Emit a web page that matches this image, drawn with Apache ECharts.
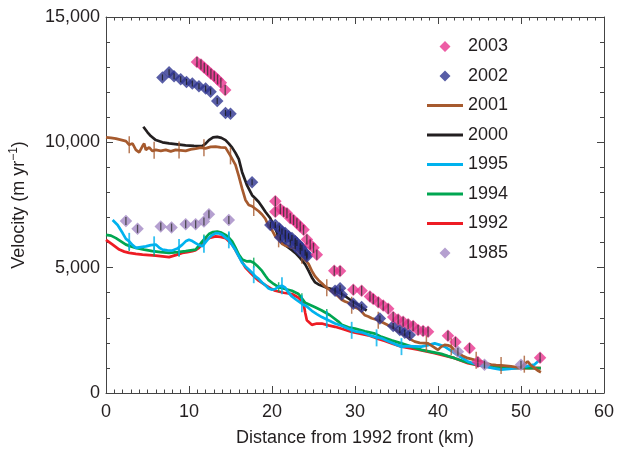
<!DOCTYPE html>
<html>
<head>
<meta charset="utf-8">
<script src="https://cdn.jsdelivr.net/npm/echarts@6/dist/echarts.min.js"></script>
<style>
  html, body { margin: 0; background: #fff; }
  #chart { width: 618px; height: 452px; }
</style>
</head>
<body>
<div id="chart"></div>
<script>
// [distance km, velocity m/yr]
const v2003 = [
  [10.96, 13200], [11.44, 13110], [11.84, 12980], [12.24, 12870], [12.64, 12740], [13.04, 12640],
  [13.44, 12510], [13.84, 12380], [14.36, 12090],
  [20.4, 7650], [20.4, 7230], [21.0, 7340], [21.4, 7230], [21.8, 7170], [22.2, 6970], [22.6, 6900],
  [23.0, 6770], [23.4, 6640], [23.8, 6510], [24.2, 6120], [24.6, 5920], [25.0, 5790], [25.4, 5520],
  [27.5, 4880], [28.2, 4870],
  [29.8, 4120], [30.8, 4080], [31.8, 3850], [32.2, 3750], [32.8, 3620], [33.4, 3490], [34.0, 3360],
  [34.6, 3030], [35.2, 2930], [35.8, 2840], [36.4, 2740], [37.0, 2670], [37.6, 2510], [38.2, 2470],
  [38.8, 2440],
  [41.2, 2280], [42.1, 2030], [43.8, 1790], [44.8, 1240], [52.3, 1410]
]
const v2002 = [
  [6.8, 12590], [7.6, 12800], [8.2, 12640], [9.0, 12520], [9.7, 12410], [10.4, 12350], [11.2, 12240],
  [12.0, 12150], [12.6, 12020], [13.4, 11650], [14.4, 11170], [15.0, 11140],
  [17.6, 8410],
  [19.8, 6700], [20.4, 6700], [20.9, 6560], [21.2, 6440], [21.6, 6380], [22.0, 6250], [22.4, 6180],
  [22.8, 6050], [23.0, 5980], [23.4, 5850], [23.6, 5790], [24.0, 5600], [24.2, 5520],
  [21.0, 6200], [21.6, 6150], [22.2, 6000], [22.8, 5850], [23.4, 5650], [24.2, 5450],
  [27.6, 4080], [28.2, 4180], [28.4, 3930], [29.8, 3560], [30.8, 3430], [33.0, 2970], [34.6, 2670],
  [35.4, 2510], [36.0, 2400], [36.6, 2310]
]
const v2001 = [
  [0, 10200], [0.6, 10180], [1.2, 10150], [1.8, 10100], [2.4, 10050], [2.8, 9900], [3.2, 9950],
  [3.6, 9700], [4.0, 9600], [4.4, 9850], [4.6, 9950], [4.8, 9700], [5.2, 9800], [5.6, 9650],
  [6.0, 9700], [6.6, 9660], [7.2, 9700], [7.8, 9640], [8.4, 9700], [9.0, 9680], [9.6, 9660],
  [10.2, 9720], [10.8, 9750], [11.4, 9790], [12.0, 9760], [12.6, 9820], [13.2, 9830], [13.8, 9800],
  [14.4, 9790], [15.0, 9460], [15.6, 9100], [16.0, 8650], [16.4, 8150], [16.8, 7700], [17.2, 7500],
  [17.6, 7450], [18.0, 7350], [18.4, 7250], [18.8, 7120], [19.2, 6950], [19.6, 6650], [20.0, 6500],
  [20.4, 6250], [20.8, 6150], [21.2, 5950], [21.6, 5880], [22.0, 5850], [22.4, 5800], [22.8, 5780],
  [23.2, 5650], [23.6, 5500], [24.0, 5300], [24.4, 5150], [24.8, 4870], [25.2, 4650], [25.6, 4500],
  [26.0, 4380], [26.4, 4250], [26.8, 4150], [27.2, 4050], [27.6, 3950], [28.0, 3850], [28.4, 3720],
  [28.8, 3650], [29.2, 3600], [29.6, 3500], [30.0, 3420], [30.4, 3360], [30.8, 3250], [31.2, 3100],
  [31.6, 3050], [32.0, 2980], [32.4, 2940], [32.8, 2900], [33.4, 2800], [34.0, 2700], [34.6, 2600],
  [35.2, 2450], [35.6, 2380], [36.2, 2250], [36.8, 2120], [37.2, 2050], [37.8, 2000], [38.4, 1990],
  [38.8, 1980], [39.4, 1850], [40.0, 1720], [40.4, 1850], [40.8, 1920], [41.2, 1900], [41.6, 1850],
  [42.0, 1700], [42.4, 1590], [43.0, 1480], [43.6, 1390], [44.4, 1320], [45.2, 1260], [45.8, 1180],
  [46.4, 1130], [47.0, 1110], [47.6, 1100], [48.2, 1080], [48.8, 1060], [49.4, 1030], [50.0, 1000],
  [50.4, 1150], [50.8, 1260], [51.2, 1100], [51.6, 1000], [52.0, 900], [52.4, 830]
]
const v2000 = [
  [4.5, 10620], [5.0, 10400], [5.4, 10250], [6.0, 10090], [6.8, 10000], [7.6, 9960], [8.6, 9920],
  [9.6, 9880], [10.6, 9860], [11.6, 9850], [12.0, 9950], [12.4, 10090], [12.9, 10200], [13.4, 10220],
  [13.9, 10180], [14.4, 10090], [14.8, 9950], [15.2, 9790], [15.6, 9580], [16.0, 9330], [16.4, 8810],
  [17.0, 8280], [17.6, 7890], [18.0, 7760], [18.4, 7620], [18.8, 7430], [19.2, 7230], [19.8, 6970],
  [20.4, 6580], [20.8, 6200], [21.2, 6000], [21.8, 5850], [22.4, 5700], [22.8, 5590], [23.4, 5380],
  [24.0, 5130], [24.4, 4880], [24.8, 4610], [25.2, 4410], [25.6, 4330], [26.0, 4280], [26.6, 4200],
  [27.2, 4150], [27.8, 4050], [28.4, 3950], [29.0, 3820], [29.6, 3680], [30.2, 3560], [30.8, 3430],
  [31.4, 3290]
]
const v1995 = [
  [0.8, 6900], [1.4, 6700], [2.0, 6380], [2.4, 6150], [2.8, 6050], [3.2, 5900], [3.6, 5790],
  [4.2, 5820], [4.8, 5850], [5.4, 5900], [6.0, 5920], [6.4, 5800], [6.8, 5720], [7.4, 5690],
  [8.0, 5680], [8.6, 5760], [9.2, 5920], [9.6, 6050], [10.0, 6110], [10.4, 6060], [10.8, 5980],
  [11.2, 5900], [11.6, 5850], [12.0, 6020], [12.4, 6180], [12.8, 6300], [13.2, 6380], [13.6, 6370],
  [14.0, 6310], [14.4, 6200], [14.8, 6110], [15.2, 5900], [15.6, 5700], [16.0, 5450], [16.4, 5200],
  [16.8, 5050], [17.2, 4930], [17.6, 4800], [18.0, 4650], [18.4, 4550], [18.8, 4410], [19.2, 4300],
  [19.6, 4170], [20.0, 4120], [20.4, 4150], [20.8, 4250], [21.2, 4280], [21.6, 4200], [22.0, 4000],
  [22.4, 3850], [23.0, 3700], [23.6, 3560], [24.2, 3450], [24.8, 3280], [25.4, 3150], [26.0, 3030],
  [26.8, 2900], [27.6, 2770], [28.4, 2680], [29.2, 2560], [30.0, 2460], [30.8, 2420], [31.6, 2320],
  [32.4, 2240], [33.2, 2180], [34.0, 2060], [34.8, 1950], [35.6, 1850], [36.4, 1870], [37.2, 1860],
  [38.0, 1850], [38.8, 1910], [39.6, 1980], [40.2, 1920], [40.8, 1850], [41.4, 1720], [42.0, 1590],
  [42.8, 1420], [43.6, 1260], [44.6, 1150], [45.6, 1060], [46.6, 990], [47.6, 930], [48.6, 960],
  [49.6, 1000], [50.6, 1060], [51.6, 1130], [52.0, 1250], [52.4, 1330]
]
const v1994 = [
  [0, 6310], [0.6, 6280], [1.2, 6180], [1.8, 6050], [2.4, 5920], [3.0, 5850], [3.6, 5790],
  [4.6, 5720], [5.6, 5660], [6.6, 5620], [7.6, 5590], [8.6, 5620], [9.6, 5660], [10.2, 5690],
  [10.8, 5720], [11.2, 5880], [11.6, 6050], [12.0, 6200], [12.4, 6340], [12.9, 6420], [13.4, 6440],
  [13.9, 6400], [14.4, 6310], [14.8, 6200], [15.2, 6050], [15.6, 5800], [16.0, 5520], [16.4, 5330],
  [16.6, 5260], [17.0, 5250], [17.4, 5260], [17.8, 5200], [18.2, 5080], [18.8, 4870], [19.2, 4680],
  [19.6, 4500], [20.2, 4350], [20.8, 4220], [21.6, 4150], [22.4, 4080], [23.2, 3950], [23.6, 3780],
  [24.0, 3600], [24.4, 3540], [25.2, 3420], [26.0, 3290], [27.0, 3100], [28.0, 2850], [28.4, 2720],
  [29.2, 2620], [30.0, 2570], [31.2, 2460], [32.4, 2370], [33.2, 2240], [34.4, 2100], [35.6, 1980],
  [36.8, 1850], [38.0, 1720], [39.2, 1640], [40.4, 1560], [41.2, 1470], [42.0, 1390], [43.0, 1280],
  [44.0, 1180], [45.0, 1110], [46.0, 1060], [47.0, 1030], [48.0, 1010], [49.0, 1000], [50.0, 1000],
  [51.0, 990], [52.4, 990]
]
const v1992 = [
  [0, 6110], [0.8, 5920], [1.6, 5720], [2.2, 5640], [2.8, 5590], [3.6, 5550], [4.4, 5520],
  [5.2, 5500], [6.0, 5480], [6.8, 5450], [7.6, 5420], [8.4, 5500], [9.2, 5590], [9.8, 5620],
  [10.4, 5660], [10.8, 5700], [11.2, 5790], [11.6, 5950], [12.0, 6110], [12.6, 6200], [13.2, 6250],
  [13.8, 6230], [14.4, 6180], [14.8, 6050], [15.2, 5920], [15.6, 5700], [16.0, 5460], [16.4, 5230],
  [16.8, 5000], [17.4, 4800], [18.0, 4600], [18.4, 4480], [19.2, 4300], [19.8, 4180], [20.4, 4080],
  [21.4, 4000], [22.4, 3950], [23.2, 3800], [23.8, 3560], [24.0, 3200], [24.2, 2900], [24.8, 2720],
  [25.4, 2770], [26.0, 2770], [26.8, 2700], [27.6, 2640], [28.6, 2540], [29.6, 2440], [30.6, 2370],
  [31.6, 2300], [32.6, 2180], [33.6, 2080], [34.6, 1960], [35.6, 1850], [36.6, 1790], [37.6, 1730],
  [38.6, 1660], [39.6, 1590], [40.8, 1490], [42.0, 1390], [42.8, 1290], [43.6, 1190], [44.6, 1120],
  [45.6, 1060], [46.6, 1020], [47.6, 1000], [49.0, 990], [50.4, 990], [51.4, 1000], [52.4, 990]
]
const v1985 = [
  [2.4, 6860], [3.8, 6550], [6.6, 6640], [7.9, 6600], [9.6, 6730], [10.8, 6730], [11.8, 6840],
  [12.4, 7130], [14.8, 6900], [42.4, 1650], [45.6, 1130], [50.0, 1130]
]
// error bars drawn on the profile lines
const err2001 = [
  [2.8, 9900], [5.8, 9680], [8.8, 9690], [11.8, 9780], [15.0, 9460], [17.8, 7400], [20.8, 6150],
  [23.6, 5500], [26.6, 4200], [29.6, 3500], [32.8, 2900], [38.6, 1990], [41.6, 1850], [44.6, 1310],
  [47.6, 1100], [50.4, 1150]
]
const err1995 = [
  [2.8, 6050], [5.8, 5910], [8.8, 5800], [11.8, 5930], [14.8, 6110], [17.8, 4720], [21.2, 4280],
  [23.6, 3560], [26.6, 2930], [29.6, 2500], [32.6, 2200], [35.6, 1850]
]
const err1994 = [
  [2.8, 5860], [5.8, 5650], [8.8, 5630], [11.8, 6120], [14.8, 6200], [17.8, 5200], [20.8, 4220],
  [23.6, 3780], [26.6, 3150]
]
const xTicks = [0, 10, 20, 30, 40, 50, 60]
const yTicks = [0, 5000, 10000, 15000]
const legendYears = ['2003', '2002', '2001', '2000', '1995', '1994', '1992', '1985']
const diamondYears = ['2003', '2002', '1985']

const FONT = "'Liberation Sans', Arial, sans-serif"
const TXT = '#231f20'
const AXIS = '#444'
// legend icons: thin bar for lines, small diamond padded to the full 36x12 icon box
const LINE_ICON = 'path://M0,0H36V3H0Z'
const DIAMOND_ICON = 'path://M0,6L0.01,6L0,6.01ZM36,6L35.99,6L36,6.01ZM18,0.5L23.5,6L18,11.5L12.5,6Z'

const chart = echarts.init(document.getElementById('chart'))

function lineSeries(name, data, color, z) {
  return {
    name, type: 'line', data, symbol: 'none', z,
    lineStyle: { color, width: 2.7 },
    itemStyle: { color },
    animation: false,
  }
}
function diamondSeries(name, data, color) {
  return {
    name, type: 'scatter', data, symbol: 'diamond', symbolSize: 12.5, z: 10,
    itemStyle: { color },
    animation: false,
  }
}
function barSeries(data, color, h, w, z) {
  return {
    type: 'scatter', data, symbol: 'rect', symbolSize: [w, h], z, silent: true,
    itemStyle: { color }, animation: false,
  }
}

function xAxisDef(pos) {
  return {
    type: 'value', position: pos, min: xTicks[0], max: xTicks[xTicks.length - 1], interval: 10,
    axisLine: { show: true, onZero: false, lineStyle: { color: AXIS, width: 1 } },
    axisTick: { show: true, inside: true, length: 7, lineStyle: { color: AXIS } },
    minorTick: { show: true, splitNumber: 10, length: 3.5, lineStyle: { color: AXIS } },
    splitLine: { show: false },
    axisLabel: { show: pos === 'bottom', margin: 10, color: TXT, fontSize: 18, fontFamily: FONT },
    name: pos === 'bottom' ? 'Distance from 1992 front (km)' : '',
    nameLocation: 'middle', nameGap: 36,
    nameTextStyle: { color: TXT, fontSize: 18, fontFamily: FONT },
  }
}
function yAxisDef(pos) {
  return {
    type: 'value', position: pos, min: yTicks[0], max: yTicks[yTicks.length - 1], interval: 5000,
    axisLine: { show: true, onZero: false, lineStyle: { color: AXIS, width: 1 } },
    axisTick: { show: true, inside: true, length: 7, lineStyle: { color: AXIS } },
    minorTick: { show: true, splitNumber: 5, length: 4, lineStyle: { color: AXIS } },
    splitLine: { show: false },
    axisLabel: {
      show: pos === 'left', margin: 6, color: TXT, fontSize: 18, fontFamily: FONT,
      formatter: (v) => v.toLocaleString('en-US'),
    },
    name: pos === 'left' ? '{a|Velocity (m yr}{s|−1}{a|)}' : '',
    nameLocation: 'middle', nameGap: 76,
    nameTextStyle: {
      color: TXT, fontFamily: FONT,
      rich: {
        a: { fontSize: 18, color: TXT, fontFamily: FONT, lineHeight: 22 },
        s: { fontSize: 12, color: TXT, fontFamily: FONT, verticalAlign: 'top', lineHeight: 14 },
      },
    },
  }
}

chart.setOption({
  backgroundColor: '#fff',
  animation: false,
  grid: { left: 103, right: 14, top: 17, bottom: 55 },
  xAxis: [xAxisDef('bottom'), xAxisDef('top')],
  yAxis: [yAxisDef('left'), yAxisDef('right')],
  legend: {
    data: legendYears.map((y) => ({ name: y, icon: diamondYears.includes(y) ? DIAMOND_ICON : LINE_ICON })),
    orient: 'vertical', left: 427, top: 37.5, padding: 0,
    itemWidth: 36, itemHeight: 12, itemGap: 11.5,
    textStyle: { color: TXT, fontSize: 18, fontFamily: FONT, lineHeight: 18 },
    selectedMode: false,
  },
  series: [
    lineSeries('1992', v1992, '#ed1c24', 2),
    lineSeries('1994', v1994, '#00a651', 3),
    barSeries(err1994, '#00a651', 10, 1.5, 3),
    lineSeries('1995', v1995, '#00b2ee', 4),
    barSeries(err1995, '#00b2ee', 17, 1.8, 4),
    lineSeries('2000', v2000, '#231f20', 5),
    lineSeries('2001', v2001, '#a65a2e', 6),
    barSeries(err2001, '#a65a2e', 17, 1.5, 6),
    diamondSeries('1985', v1985, '#a388c4'),
    barSeries(v1985, '#333', 8, 1.3, 11),
    diamondSeries('2002', v2002, '#2e3590'),
    barSeries(v2002, '#1a1a1a', 6, 1.2, 11),
    diamondSeries('2003', v2003, '#e8358e'),
    barSeries(v2003, '#333', 10, 1.3, 11),
  ],
})
</script>
</body>
</html>
